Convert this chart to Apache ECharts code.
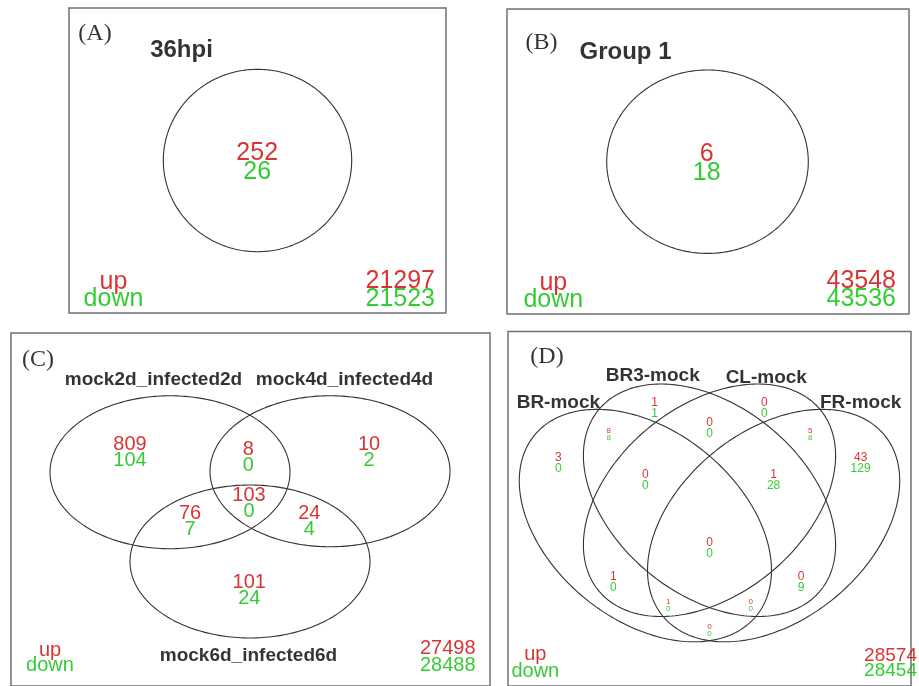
<!DOCTYPE html>
<html>
<head>
<meta charset="utf-8">
<title>Venn diagrams of up / down regulated genes</title>
<script src="https://cdn.jsdelivr.net/npm/echarts@6/dist/echarts.min.js"></script>
<style>
  html, body { margin: 0; padding: 0; background: #ffffff; }
  #chart { width: 919px; height: 686px; }
</style>
</head>
<body>
<div id="chart"></div>
<script>
// ---------------- counts ----------------
const panelTags = ['(A)', '(B)', '(C)', '(D)'];
const legendWords = ['up', 'down'];

const setsA = ['36hpi'];
const upA = [252];
const downA = [26];
const totalA = [21297, 21523];

const setsB = ['Group 1'];
const upB = [6];
const downB = [18];
const totalB = [43548, 43536];

const setsC = ['mock2d_infected2d', 'mock4d_infected4d', 'mock6d_infected6d'];
const regionsC = ['100', '010', '001', '110', '101', '011', '111'];
const upC = [809, 10, 101, 8, 76, 24, 103];
const downC = [104, 2, 24, 0, 7, 4, 0];
const totalC = [27498, 28488];

const setsD = ['BR-mock', 'BR3-mock', 'CL-mock', 'FR-mock'];
const regionsD = ['1000', '0100', '0010', '0001', '1100', '1010', '1001', '0110',
                  '0101', '0011', '1110', '1101', '1011', '0111', '1111'];
const upD = [3, 1, 0, 43, 8, 1, 0, 0, 0, 5, 0, 1, 0, 1, 0];
const downD = [0, 1, 0, 129, 8, 0, 0, 0, 9, 8, 0, 0, 0, 28, 0];
const totalD = [28574, 28454];

// ---------------- styling ----------------
const RED = '#d00000';
const GREEN = '#00bf00';
const INK = '#000000';
const SANS = '"Liberation Sans", Arial, Helvetica, sans-serif';
const SERIF = '"Liberation Serif", "Times New Roman", serif';

// ---------------- panel layout ----------------
// Panels A-C use a local frame measured from each box's top-left corner;
// panel D uses the classic 400 x 400 four-ellipse frame.
const panels = [
  { box: { left: 69, top: 8, width: 377, height: 305 }, x: [0, 377], y: [0, 305], inverse: true },
  { box: { left: 507, top: 9, width: 402, height: 305 }, x: [0, 402], y: [0, 305], inverse: true },
  { box: { left: 11, top: 333, width: 479, height: 360 }, x: [0, 479], y: [0, 360], inverse: true },
  { box: { left: 508, top: 331.4, width: 403, height: 359.5 }, x: [-20, 420], y: [-20, 400], inverse: false }
];

// ellipse outlines: [cx, cy, semi-axis a, semi-axis b, rotation in degrees]
const shapesA = [[188.5, 152.5, 94.2, 91.2, 0]];
const shapesB = [[200.5, 152.7, 100.8, 91.7, 0]];
const shapesC = [[159, 142, 120, 78, 0], [319, 141, 120, 77, 0], [239, 233, 120, 78, 0]];
const shapesD = [[130, 170, 162, 108, 45], [200, 200, 162, 108, 45],
                 [200, 200, 162, 108, 135], [270, 170, 162, 108, 135]];

const tagPos = [[26, 26], [34.5, 34], [27, 27], [22.6, 370.1]];
const namePosA = [[112.5, 42]];
const namePosB = [[118.5, 43]];
const namePosC = [[142.5, 48], [333.5, 48], [237.5, 329]];
const namePosD = [[35, 315], [138, 348], [262, 345], [365, 315]];

const regionPosA = [[188.2, 154.5]];
const regionPosB = [[199.7, 154.5]];
const regionPosC = {
  '100': [119, 122], '010': [358, 122], '001': [238.3, 263],
  '110': [237.3, 126.7], '101': [179, 192.3], '011': [298.3, 192.3], '111': [238, 173.8]
};
const regionPosD = {
  '1000': [35, 250], '0100': [140, 315], '0010': [260, 315], '0001': [365, 250],
  '1100': [90, 282], '1010': [95, 110], '1001': [200, 50], '0110': [200, 292],
  '0101': [300, 110], '0011': [310, 282], '1110': [130, 230], '1101': [155, 80],
  '1011': [245, 80], '0111': [270, 230], '1111': [200, 150]
};
const smallRegionsD = ['1100', '1001', '0011', '1101', '1011'];

const legendPos = [[44.5, 282.5], [46.3, 282.5], [39, 331.5], [9.8, 6.8]];
const totalPos = [[366, 282], [389, 281], [464.5, 330.4], [426.5, 6.9]];

// ---------------- series builders ----------------
function ellipseSeries(gi, shapes) {
  return {
    type: 'custom',
    coordinateSystem: 'cartesian2d',
    xAxisIndex: gi,
    yAxisIndex: gi,
    silent: true,
    clip: false,
    z: 2,
    data: shapes,
    renderItem: function (params, api) {
      const cx = api.value(0), cy = api.value(1);
      const a = api.value(2), b = api.value(3);
      const phi = api.value(4) * Math.PI / 180;
      const pts = [];
      for (let i = 0; i < 240; i++) {
        const t = 2 * Math.PI * i / 240;
        const e1 = a * Math.cos(t), e2 = b * Math.sin(t);
        pts.push(api.coord([
          cx + e1 * Math.cos(phi) + e2 * Math.sin(phi),
          cy - e1 * Math.sin(phi) + e2 * Math.cos(phi)
        ]));
      }
      return {
        type: 'polygon',
        shape: { points: pts },
        style: { fill: 'none', stroke: '#333333', lineWidth: 1.1 }
      };
    }
  };
}

function textSeries(gi, items, o) {
  const base = {
    fontSize: o.size, lineHeight: o.lh || o.size,
    fontFamily: o.family || SANS, fontWeight: o.weight || 'normal',
    align: o.align || 'center'
  };
  return {
    type: 'scatter',
    xAxisIndex: gi,
    yAxisIndex: gi,
    symbolSize: 1,
    silent: true,
    clip: false,
    z: 5,
    itemStyle: { color: 'rgba(0,0,0,0)' },
    label: {
      show: true,
      position: 'inside',
      align: o.align || 'center',
      verticalAlign: 'middle',
      offset: o.offset || [0, 0],
      formatter: function (p) { return p.data.txt; },
      rich: {
        u: Object.assign({ color: RED }, base),
        d: Object.assign({ color: GREEN }, base),
        k: Object.assign({ color: INK }, base)
      }
    },
    data: items.map(function (it) { return { value: it[0], txt: it[1] }; })
  };
}

const pair = (u, d) => '{u|' + u + '}\n{d|' + d + '}';

const series = [];

// Panel A
series.push(ellipseSeries(0, shapesA));
series.push(textSeries(0, [[tagPos[0], '{k|' + panelTags[0] + '}']], { size: 24, family: SERIF }));
series.push(textSeries(0, setsA.map((s, i) => [namePosA[i], '{k|' + s + '}']), { size: 24, weight: 'bold' }));
series.push(textSeries(0, upA.map((v, i) => [regionPosA[i], pair(v, downA[i])]), { size: 25, lh: 19 }));
series.push(textSeries(0, [[legendPos[0], pair(legendWords[0], legendWords[1])]], { size: 25, lh: 17.5 }));
series.push(textSeries(0, [[totalPos[0], pair(totalA[0], totalA[1])]], { size: 25, lh: 18, align: 'right' }));

// Panel B
series.push(ellipseSeries(1, shapesB));
series.push(textSeries(1, [[tagPos[1], '{k|' + panelTags[1] + '}']], { size: 24, family: SERIF }));
series.push(textSeries(1, setsB.map((s, i) => [namePosB[i], '{k|' + s + '}']), { size: 24, weight: 'bold' }));
series.push(textSeries(1, upB.map((v, i) => [regionPosB[i], pair(v, downB[i])]), { size: 25, lh: 19 }));
series.push(textSeries(1, [[legendPos[1], pair(legendWords[0], legendWords[1])]], { size: 25, lh: 17.5 }));
series.push(textSeries(1, [[totalPos[1], pair(totalB[0], totalB[1])]], { size: 25, lh: 18, align: 'right' }));

// Panel C
series.push(ellipseSeries(2, shapesC));
series.push(textSeries(2, [[tagPos[2], '{k|' + panelTags[2] + '}']], { size: 24, family: SERIF }));
series.push(textSeries(2, setsC.map((s, i) => [namePosC[i], '{k|' + s + '}']), { size: 19, weight: 'bold' }));
series.push(textSeries(2, regionsC.map((r, i) => [regionPosC[r], pair(upC[i], downC[i])]), { size: 20, lh: 16 }));
series.push(textSeries(2, [[legendPos[2], pair(legendWords[0], legendWords[1])]], { size: 20, lh: 15 }));
series.push(textSeries(2, [[totalPos[2], pair(totalC[0], totalC[1])]], { size: 20, lh: 16.5, align: 'right' }));

// Panel D
series.push(ellipseSeries(3, shapesD));
series.push(textSeries(3, [[tagPos[3], '{k|' + panelTags[3] + '}']], { size: 24, family: SERIF }));
series.push(textSeries(3, setsD.map((s, i) => [namePosD[i], '{k|' + s + '}']), { size: 19, weight: 'bold' }));
const bigD = [], smallD = [];
regionsD.forEach(function (r, i) {
  const item = [regionPosD[r], pair(upD[i], downD[i])];
  (smallRegionsD.indexOf(r) >= 0 ? smallD : bigD).push(item);
});
series.push(textSeries(3, bigD, { size: 12, lh: 11, offset: [0, 5.5] }));
series.push(textSeries(3, smallD, { size: 8, lh: 7, offset: [0, 3.5] }));
series.push(textSeries(3, [[legendPos[3], pair(legendWords[0], legendWords[1])]], { size: 20, lh: 17 }));
series.push(textSeries(3, [[totalPos[3], pair(totalD[0], totalD[1])]], { size: 19, lh: 14.5, align: 'right' }));

const option = {
  animation: false,
  backgroundColor: '#ffffff',
  grid: panels.map(p => Object.assign({
    show: true,
    borderColor: '#707070',
    borderWidth: 1.5,
    backgroundColor: 'transparent',
    containLabel: false
  }, p.box)),
  xAxis: panels.map((p, i) => ({
    gridIndex: i, type: 'value', min: p.x[0], max: p.x[1], show: false
  })),
  yAxis: panels.map((p, i) => ({
    gridIndex: i, type: 'value', min: p.y[0], max: p.y[1], inverse: p.inverse, show: false
  })),
  series: series
};

const chart = echarts.init(document.getElementById('chart'), null, { renderer: 'canvas' });
chart.setOption(option);
</script>
</body>
</html>
